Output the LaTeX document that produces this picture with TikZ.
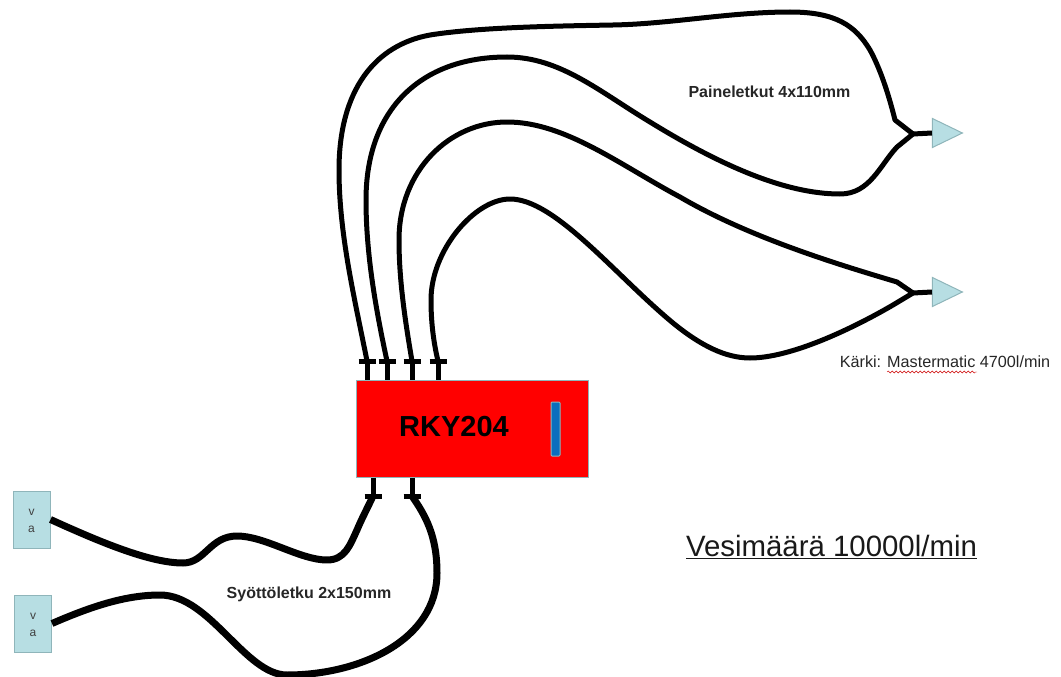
\documentclass[tikz,border=0pt]{standalone}
\usepackage{fontspec}
\setmainfont{Liberation Sans}
\usetikzlibrary{shapes.geometric,decorations.pathmorphing}
\definecolor{palecyan}{HTML}{B7DEE3}
\definecolor{paleedge}{HTML}{8FB5BA}
\definecolor{gaugeblue}{HTML}{0A6EBD}
\tikzset{
  hose/.style={line width=5pt, line join=round},
  feed/.style={line width=7pt, line join=round},
  stub/.style={line width=5pt},
  source/.style={draw=paleedge, fill=palecyan, line width=1pt, minimum width=37pt, minimum height=57pt, inner sep=0pt, align=center, font=\fontsize{12}{17}\selectfont, text=black!75},
  nozzle/.style={draw=paleedge, fill=palecyan, line width=1pt, isosceles triangle, isosceles triangle stretches, minimum width=29pt, minimum height=30pt, inner sep=0pt},
  label/.style={inner sep=0pt, text=black!85, font=\fontsize{16}{18}\selectfont\bfseries}
}
\begin{document}
\begin{tikzpicture}[x=1pt, y=-1pt]
  \useasboundingbox (0, 0) rectangle (1061, 677);

  \node[draw=paleedge, fill=red, line width=1pt, minimum width=232pt, minimum height=97pt, inner sep=0pt] (box) at (472, 428.5) {};
  \node[font=\fontsize{29}{30}\selectfont\bfseries, inner sep=0pt] (boxname) at (454, 427) {RKY204};
  \node[draw=paleedge, fill=gaugeblue, line width=1pt, rounded corners=1pt, minimum width=9pt, minimum height=54pt, inner sep=0pt] (gauge) at (555.5, 429) {};

  % couplings on the box
  \foreach \name/\xx in {outA/367, outB/387, outC/412, outD/438} {
    \coordinate (\name) at (\xx, 361);
    \draw[stub] (\name |- box.north) -- (\name);
    \draw[stub] ([xshift=-8.5pt]\name) -- ([xshift=8.5pt]\name);
  }
  \foreach \name/\xx in {inA/373, inB/412} {
    \coordinate (\name) at (\xx, 496);
    \draw[stub] (\name |- box.south) -- (\name);
    \draw[stub] ([xshift=-8.5pt]\name) -- ([xshift=8.5pt]\name);
  }

  \node[nozzle] (nozzleA) at (941.5, 133) {};
  \node[nozzle] (nozzleB) at (941.5, 292) {};
  \coordinate (forkA) at (913, 134);
  \coordinate (forkB) at (913, 293);
  \draw[stub] (forkA) -- (nozzleA.west);
  \draw[stub] (forkB) -- (nozzleB.west);

  \draw[hose] (outA) .. controls (355, 300) and (339, 235) .. (339, 170)
     .. controls (339, 90) and (375, 45) .. (430, 35)
     .. controls (480, 27) and (560, 26) .. (613, 25)
     .. controls (670, 24) and (730, 12) .. (790, 12)
     .. controls (835, 12) and (855, 25) .. (870, 50)
     .. controls (882, 72) and (890, 100) .. (895, 120) -- (forkA);
  \draw[hose] (outB) .. controls (376, 310) and (366, 255) .. (366, 200)
     .. controls (366, 110) and (420, 57) .. (507, 57)
     .. controls (560, 57) and (600, 92) .. (650, 122)
     .. controls (720, 165) and (785, 194) .. (840, 194)
     .. controls (870, 194) and (880, 165) .. (897, 147) -- (forkA);
  \draw[hose] (outC) .. controls (405, 320) and (399, 280) .. (399, 240)
     .. controls (399, 170) and (450, 122) .. (507, 122)
     .. controls (565, 122) and (620, 165) .. (680, 197)
     .. controls (750, 238) and (840, 265) .. (897, 282) -- (forkB);
  \draw[hose] (outD) .. controls (433, 340) and (431, 320) .. (431, 300)
     .. controls (431, 250) and (475, 199) .. (510, 199)
     .. controls (555, 199) and (615, 275) .. (673, 323)
     .. controls (700, 345) and (725, 358) .. (750, 358)
     .. controls (790, 358) and (850, 330) .. (893, 305) -- (forkB);

  \node[source] (sourceA) at (31.5, 519.5) {\rule{0pt}{9.5pt}v\\a};
  \node[source] (sourceB) at (33, 623.5) {\rule{0pt}{9.5pt}v\\a};
  \draw[feed] (sourceA.east) .. controls (100, 542) and (150, 563) .. (183, 563)
     .. controls (205, 563) and (210, 536) .. (237, 536)
     .. controls (265, 536) and (300, 560) .. (327, 560)
     .. controls (345, 560) and (350, 545) .. (357, 530)
     .. controls (362, 518) and (368, 507) .. (inA);
  \draw[feed] (sourceB.east) .. controls (90, 607) and (125, 595) .. (160, 595)
     .. controls (210, 595) and (245, 675) .. (287, 675)
     .. controls (360, 675) and (437, 640) .. (437, 573)
     .. controls (437, 535) and (425, 515) .. (inB);

  \node[label] (pressurelabel) at (769.5, 92) {Paineletkut 4x110mm};
  \node[label] (feedlabel) at (309, 594) {Syöttöletku 2x150mm};
  \node[inner sep=0pt, font=\fontsize{16.2}{18}\selectfont, text=black!85] (tiplabel) at (945, 362) {Kärki: Mastermatic 4700l/min};
  \node[inner sep=0pt, font=\fontsize{29.4}{32}\selectfont, text=black!90] (flowlabel) at (831.5, 547) {\underline{Vesimäärä 10000l/min}};

  \coordinate (wavyA) at (887, 372);
  \coordinate (wavyB) at (977, 372);
  \draw[red!80!black, decorate, decoration={snake, amplitude=1pt, segment length=4pt}] (wavyA) -- (wavyB);
\end{tikzpicture}
\end{document}
